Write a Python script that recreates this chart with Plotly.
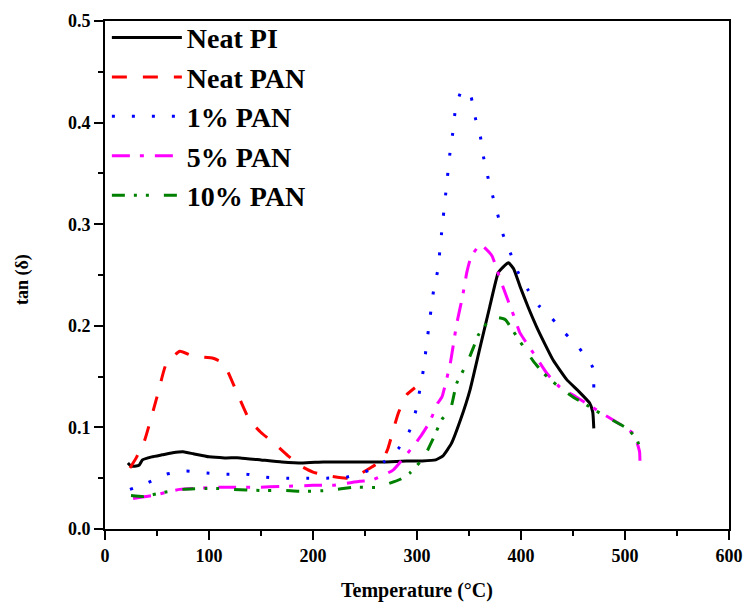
import plotly.graph_objects as go

# ---- data ----
pi_T = [22, 25, 30, 33, 36, 45, 55, 65, 75, 85, 100, 115, 130, 150, 170, 190, 210, 230, 250, 270,
        290, 305, 318, 325, 333, 342, 351, 360, 370, 378, 383, 388, 393, 399, 407, 415, 423, 431,
        444, 455, 466, 469, 470]
pi_v = [0.065, 0.062, 0.062, 0.063, 0.068, 0.071, 0.073, 0.075, 0.076, 0.074, 0.071, 0.070, 0.070,
        0.068, 0.066, 0.065, 0.066, 0.066, 0.066, 0.066, 0.067, 0.067, 0.068, 0.072, 0.084, 0.108,
        0.137, 0.176, 0.219, 0.252, 0.258, 0.262, 0.256, 0.239, 0.218, 0.199, 0.182, 0.166, 0.147,
        0.136, 0.124, 0.115, 0.099]

pan_T = [24, 30, 38, 50, 59, 72, 85, 104, 114, 127, 139, 150, 162, 176, 190, 200, 211, 232, 245,
         255, 267, 272, 279, 282, 290, 298]
pan_v = [0.060, 0.070, 0.087, 0.130, 0.163, 0.175, 0.170, 0.168, 0.163, 0.134, 0.107, 0.095, 0.085,
         0.072, 0.061, 0.056, 0.053, 0.050, 0.054, 0.060, 0.068, 0.079, 0.104, 0.114, 0.132, 0.139]

p1_T = [24, 40, 59, 78, 98, 117, 136, 155, 175, 194, 213, 232, 252, 268, 282, 293, 299, 306, 311,
        316, 320, 324, 328, 332, 335, 337, 343, 347, 352, 356, 361, 364, 368, 373, 378, 383, 390,
        397, 407, 417, 430, 442, 456, 469, 470]
p1_v = [0.039, 0.045, 0.054, 0.057, 0.055, 0.054, 0.054, 0.051, 0.050, 0.050, 0.050, 0.051, 0.057,
        0.066, 0.079, 0.097, 0.117, 0.156, 0.196, 0.235, 0.255, 0.295, 0.334, 0.373, 0.394, 0.414,
        0.432, 0.431, 0.425, 0.405, 0.386, 0.366, 0.347, 0.327, 0.308, 0.289, 0.271, 0.253, 0.235,
        0.220, 0.207, 0.193, 0.178, 0.159, 0.139]

p5_T = [27, 46, 72, 110, 142, 175, 200, 219, 245, 256, 277, 296, 304, 312, 320, 324, 332, 338, 344,
        348, 352, 361, 372, 380, 386, 393, 399, 412, 425, 437, 453, 473, 489, 508, 511, 514, 514.5]
p5_v = [0.030, 0.033, 0.039, 0.041, 0.041, 0.042, 0.043, 0.043, 0.047, 0.048, 0.058, 0.081, 0.092,
        0.105, 0.124, 0.130, 0.163, 0.201, 0.230, 0.253, 0.268, 0.280, 0.269, 0.246, 0.229, 0.210,
        0.193, 0.173, 0.153, 0.140, 0.130, 0.117, 0.107, 0.094, 0.087, 0.076, 0.061]

p10_T = [25, 37, 56, 75, 104, 123, 149, 171, 188, 215, 239, 261, 268, 284, 293, 303, 308, 316, 324,
         332, 338, 348, 354, 359, 370, 378, 385, 393, 402, 412, 422, 434, 450, 460, 476, 490, 502,
         511, 514]
p10_v = [0.033, 0.032, 0.036, 0.039, 0.040, 0.039, 0.038, 0.038, 0.037, 0.038, 0.041, 0.041, 0.043,
         0.049, 0.055, 0.066, 0.073, 0.090, 0.108, 0.117, 0.143, 0.163, 0.178, 0.191, 0.206, 0.208,
         0.206, 0.194, 0.180, 0.165, 0.153, 0.142, 0.130, 0.124, 0.114, 0.106, 0.099, 0.089, 0.081]

names = ["Neat PI", "Neat PAN", "1% PAN", "5% PAN", "10% PAN"]
xticks = [0, 100, 200, 300, 400, 500, 600]
yticks = [0.0, 0.1, 0.2, 0.3, 0.4, 0.5]

FONT = "Liberation Serif"

series = [
    (pi_T, pi_v, "#000000", "solid", 3),
    (pan_T, pan_v, "#ff0000", "15px,16px", 3),
    (p1_T, p1_v, "#0000ff", "3px,17px", 3),
    (p5_T, p5_v, "#ff00ff", "18px,10px,4px,11px", 3),
    (p10_T, p10_v, "#008000", "13px,9px,3px,9px,3px,15px", 3),
]

fig = go.Figure()
for (x, y, c, d, w), n in zip(series, names):
    fig.add_trace(go.Scatter(x=x, y=y, name=n, mode="lines",
                             line=dict(color=c, dash=d, width=w, shape="spline", smoothing=0.4)))

axis_common = dict(showline=True, linecolor="black", linewidth=2, mirror=True,
                   ticks="outside", ticklen=9, tickwidth=2, tickcolor="black",
                   showgrid=False, zeroline=False, automargin=False,
                   tickfont=dict(family=FONT, size=18, color="black", weight="bold"),
                   minor=dict(ticks="outside", ticklen=5, tickwidth=2, tickcolor="black"))

fig.update_layout(
    width=746, height=602,
    margin=dict(l=105, r=17, t=21, b=73),
    paper_bgcolor="white", plot_bgcolor="white",
    showlegend=True,
    legend=dict(x=0.003, y=1.016, xanchor="left", yanchor="top",
                bgcolor="rgba(0,0,0,0)", borderwidth=0, tracegroupgap=0,
                itemwidth=70,
                font=dict(family=FONT, size=28, color="black", weight="bold")),
    xaxis=dict(range=[0, 600], tickvals=xticks, ticktext=[str(t) for t in xticks],
               title=dict(text="Temperature (°C)", standoff=24,
                          font=dict(family=FONT, size=20, color="black", weight="bold")),
               **axis_common),
    yaxis=dict(range=[0, 0.5], tickvals=yticks, ticktext=[f"{t:.1f}" for t in yticks],
               **axis_common),
    annotations=[dict(text="tan (δ)", xref="paper", yref="paper", x=-0.133, y=0.49,
                      xanchor="center", yanchor="middle", textangle=-90, showarrow=False,
                      font=dict(family=FONT, size=18, color="black", weight="bold"))],
)
fig.update_xaxes(minor=dict(dtick=50, tick0=0))
fig.update_yaxes(minor=dict(dtick=0.05, tick0=0))

fig.write_html("out.html")
